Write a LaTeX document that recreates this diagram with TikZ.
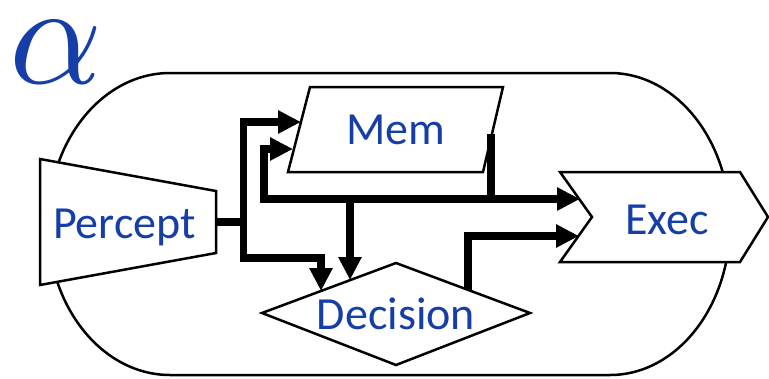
\documentclass[tikz,border=0pt]{standalone}
\usepackage{fontspec}
\newfontfamily\calib{Carlito}
\usetikzlibrary{arrows.meta}
\definecolor{ablue}{RGB}{22,62,168}
\tikzset{
  shapeline/.style={draw=black, line width=2.5pt, fill=white, line join=miter},
  flow/.style={line width=7.5pt, line join=miter, -{Triangle[length=23pt,width=22pt]}},
  lbl/.style={text=ablue, font=\calib\fontsize{46}{46}\selectfont, inner sep=0pt, anchor=base}
}
\begin{document}
\begin{tikzpicture}[x=1pt,y=-1pt]
\useasboundingbox (0,0) rectangle (769,378);
% outer container
\draw[line width=2.5pt, fill=white] (170,73) -- (610,73)
  arc[start angle=-90, end angle=90, x radius=120, y radius=151]
  -- (170,375)
  arc[start angle=90, end angle=270, x radius=122, y radius=151] -- cycle;
% alpha
\node[text=ablue, inner sep=0pt, anchor=base west, scale=14.5] (alpha) at (7,83) {$\alpha$};
% shapes
\draw[shapeline] (40,159) -- (216,191) -- (216,253) -- (40,285) -- cycle;
\draw[shapeline] (310,87) -- (503,87) -- (483,172) -- (288,172) -- cycle;
\draw[shapeline] (262,313) -- (396,263) -- (530,313) -- (396,365) -- cycle;
\draw[shapeline] (560,172) -- (740,172) -- (768,217) -- (740,262) -- (560,262) -- (592,217) -- cycle;
% labels
\node[lbl] (percept) at (124.5,238) {Percept};
\node[lbl] (mem) at (396,144) {Mem};
\node[lbl] (decision) at (396,329) {Decision};
\node[lbl] (exec) at (667,234) {Exec};
% connection points
\coordinate (pR) at (216,222);
\coordinate (bus) at (243.5,222);
\coordinate (mIn1) at (301,122);
\coordinate (mIn2) at (293,149);
\coordinate (j2) at (321,258);
\coordinate (dIn1) at (321,291);
\coordinate (dIn2) at (350,280);
\coordinate (mOut) at (491,134);
\coordinate (mJ) at (491,199);
\coordinate (loopL) at (264,199);
\coordinate (dJ) at (350,199);
\coordinate (exIn1) at (580,199);
\coordinate (exIn2) at (579,236);
\coordinate (dOut) at (468,290);
% connectors
\draw[flow] (pR) -- (bus) |- (mIn1);
\draw[flow] (bus) |- (j2) -- (dIn1);
\draw[flow] (mOut) |- (loopL) |- (mIn2);
\draw[flow] (mJ) -- (exIn1);
\draw[flow] (dJ) -- (dIn2);
\draw[flow] (dOut) |- (exIn2);
\end{tikzpicture}
\end{document}
